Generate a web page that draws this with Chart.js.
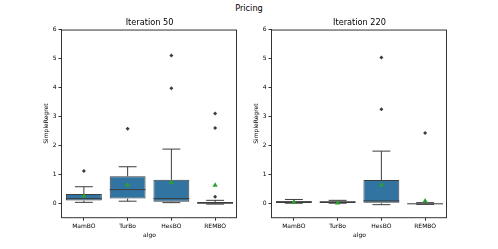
<!DOCTYPE html>
<html>
<head>
<meta charset="utf-8">
<script src="https://cdn.jsdelivr.net/npm/chart.js@4"></script>
<style>
  body { margin: 0; background: #fff; }
  #wrap { position: relative; width: 498px; height: 249px; overflow: hidden; }
  #sup { position: absolute; left: 0; width: 498px; top: 3px; text-align: center;
         font: 8.2px "DejaVu Sans", sans-serif; color: #000; }
  .panel { position: absolute; top: 0; width: 249px; height: 249px; }
</style>
</head>
<body>
<div id="wrap">
  <div id="sup">Pricing</div>
  <div class="panel" style="left:0"><canvas id="c1" width="249" height="249"></canvas></div>
  <div class="panel" style="left:210px"><canvas id="c2" width="249" height="249"></canvas></div>
</div>
<script>
const algos = ['MamBO', 'TurBo', 'HesBO', 'REMBO'];

// Iteration 50
const it50Low = [0.03, 0.07, 0.02, -0.03];
const it50Q1 = [0.09, 0.16, 0.05, -0.02];
const it50Med = [0.16, 0.47, 0.16, 0.01];
const it50Q3 = [0.32, 0.93, 0.81, 0.04];
const it50High = [0.57, 1.26, 1.87, 0.1];
const it50Mean = [0.25, 0.63, 0.72, 0.62];
const it50Out = [[1.11], [2.57], [3.97, 5.1], [0.22, 2.6, 3.1]];

// Iteration 220
const it220Low = [0.0, 0.0, -0.05, -0.04];
const it220Q1 = [0.01, 0.01, 0.0, -0.03];
const it220Med = [0.05, 0.04, 0.08, -0.02];
const it220Q3 = [0.07, 0.07, 0.8, 0.0];
const it220High = [0.13, 0.1, 1.8, 0.02];
const it220Mean = [0.03, 0.01, 0.63, 0.08];
const it220Out = [[], [], [3.25, 5.03], [2.43]];

const yTicks = [0, 1, 2, 3, 4, 5, 6];

const FONT = '"DejaVu Sans", sans-serif';
const LINE = '#3d3d3d';

function boxPlugin(low, med, high) {
    return {
        id: 'whiskers',
        afterDatasetDraw(chart, args) {
            if (args.meta.type !== 'bar') return;
            const c = chart.ctx, xs = chart.scales.x, ys = chart.scales.y;
            const q1 = chart.data.datasets[args.index].data;
            c.save();
            c.strokeStyle = LINE;
            c.lineWidth = 1;
            args.meta.data.forEach((bar, i) => {
                const x = xs.getPixelForValue(i), w = bar.width;
                c.beginPath();
                c.moveTo(x, ys.getPixelForValue(q1[i][1]));
                c.lineTo(x, ys.getPixelForValue(high[i]));
                c.moveTo(x - w / 4, ys.getPixelForValue(high[i]));
                c.lineTo(x + w / 4, ys.getPixelForValue(high[i]));
                c.moveTo(x, ys.getPixelForValue(q1[i][0]));
                c.lineTo(x, ys.getPixelForValue(low[i]));
                c.moveTo(x - w / 4, ys.getPixelForValue(low[i]));
                c.lineTo(x + w / 4, ys.getPixelForValue(low[i]));
                c.moveTo(x - w / 2, ys.getPixelForValue(med[i]));
                c.lineTo(x + w / 2, ys.getPixelForValue(med[i]));
                c.stroke();
            });
            c.restore();
        }
    };
}

const frame = {
    id: 'frame',
    afterDraw(chart) {
        const a = chart.chartArea, c = chart.ctx;
        c.save();
        c.strokeStyle = '#333';
        c.lineWidth = 1;
        c.strokeRect(a.left - 0.5, a.top + 0.5, a.right - a.left, a.bottom - a.top - 0.5);
        c.restore();
    }
};

function makeChart(id, title, low, q1, med, q3, high, mean, outliers) {
    const outPts = [];
    outliers.forEach((vals, i) => vals.forEach(v => outPts.push({ x: algos[i], y: v })));

    return new Chart(document.getElementById(id), {
        type: 'bar',
        data: {
            labels: algos,
            datasets: [
                {
                    type: 'scatter',
                    data: mean.map((v, i) => ({ x: algos[i], y: v })),
                    pointStyle: 'triangle',
                    radius: 3,
                    backgroundColor: '#2ca02c',
                    borderWidth: 0,
                    order: 1
                },
                {
                    type: 'scatter',
                    data: outPts,
                    pointStyle: 'rectRot',
                    radius: 2,
                    backgroundColor: '#3d3d3d',
                    borderWidth: 0,
                    order: 2
                },
                {
                    type: 'bar',
                    data: algos.map((_, i) => [q1[i], q3[i]]),
                    backgroundColor: '#3274a1',
                    borderColor: LINE,
                    borderWidth: 1,
                    borderSkipped: false,
                    categoryPercentage: 0.82,
                    barPercentage: 1,
                    order: 3
                }
            ]
        },
        options: {
            responsive: false,
            animation: false,
            devicePixelRatio: 1,
            layout: { padding: { left: 0, right: 12, top: 0, bottom: 0 } },
            plugins: {
                legend: { display: false },
                tooltip: { enabled: false },
                title: {
                    display: true,
                    fullSize: false,
                    text: title,
                    color: '#000',
                    font: { family: FONT, size: 8.2, weight: 'normal' },
                    padding: { top: 17.8, bottom: 1.9 }
                }
            },
            scales: {
                x: {
                    offset: true,
                    border: { display: false },
                    grid: { offset: false, drawOnChartArea: false, drawTicks: true, tickLength: 3, color: '#333' },
                    ticks: { color: '#000', font: { family: FONT, size: 6 }, padding: 2, maxRotation: 0, autoSkip: false },
                    title: { display: true, text: 'algo', color: '#000', font: { family: FONT, size: 6 }, padding: { top: 0, bottom: 10.1 } },
                    afterFit: s => { s.height = 31.3; }
                },
                y: {
                    min: -0.5,
                    max: 6,
                    border: { display: false },
                    grid: { drawOnChartArea: false, drawTicks: true, tickLength: 3.5, color: '#333' },
                    ticks: { color: '#000', font: { family: FONT, size: 6 }, padding: 2, stepSize: 1 },
                    afterBuildTicks: s => { s.ticks = yTicks.map(v => ({ value: v })); },
                    title: { display: true, text: 'SimpleRegret', color: '#000', font: { family: FONT, size: 6 }, padding: { top: 42.4, bottom: 0 } },
                    afterFit: s => { s.width = 62; }
                }
            }
        },
        plugins: [boxPlugin(low, med, high), frame]
    });
}

makeChart('c1', 'Iteration 50', it50Low, it50Q1, it50Med, it50Q3, it50High, it50Mean, it50Out);
makeChart('c2', 'Iteration 220', it220Low, it220Q1, it220Med, it220Q3, it220High, it220Mean, it220Out);
</script>
</body>
</html>
